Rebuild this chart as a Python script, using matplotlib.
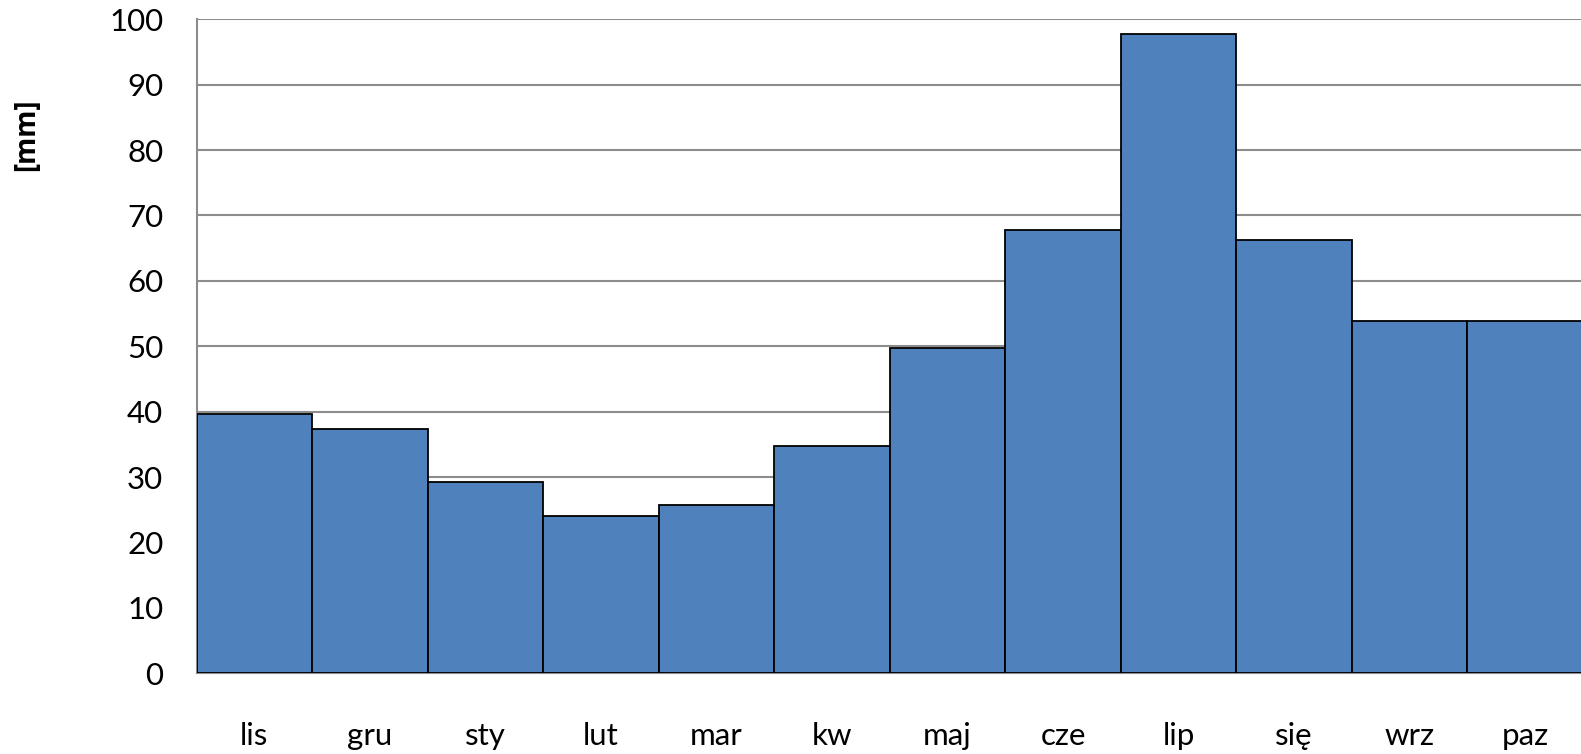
import matplotlib.pyplot as plt
import numpy as np

plt.rcParams['font.family'] = ['Lato', 'DejaVu Sans']

# Monthly precipitation [mm]
months = ["lis", "gru", "sty", "lut", "mar", "kw", "maj", "cze", "lip", "się", "wrz", "paz"]
precip = [39.6, 37.4, 29.3, 24.0, 25.7, 34.8, 49.8, 67.8, 97.7, 66.3, 53.8, 53.9]
yticks = list(range(0, 101, 10))

fig = plt.figure(figsize=(15.81, 7.54), dpi=100)
# plot area runs slightly past the right edge, as in the source image
ax = fig.add_axes([196.6 / 1581, 1 - 673.4 / 754, (1583 - 196.6) / 1581, (673.4 - 19.2) / 754])

x = np.arange(len(months))
ax.bar(x, precip, width=1.0, color="#4F81BD", edgecolor="black", linewidth=1.3, zorder=3)

ax.set_xlim(-0.5, len(months) - 0.5)
ax.set_ylim(0, 100)
ax.set_yticks(yticks)
ax.set_xticks(x)
ax.set_xticklabels(months)
ax.tick_params(axis="both", length=0, labelsize=22.5)
ax.tick_params(axis="y", pad=24)
ax.tick_params(axis="x", pad=35)

ax.grid(axis="y", color="#8c8c8c", linewidth=1.5, zorder=0)
for side in ["top", "right"]:
    ax.spines[side].set_visible(False)
for side in ["left", "bottom"]:
    ax.spines[side].set_color("#8c8c8c")
    ax.spines[side].set_linewidth(1.5)

fig.text(27 / 1581, 1 - 135 / 754, "[mm]", rotation=90, fontsize=20, fontweight="bold",
         family=["Open Sans", "DejaVu Sans"], ha="center", va="center")

fig.savefig("out.png", dpi=100)
